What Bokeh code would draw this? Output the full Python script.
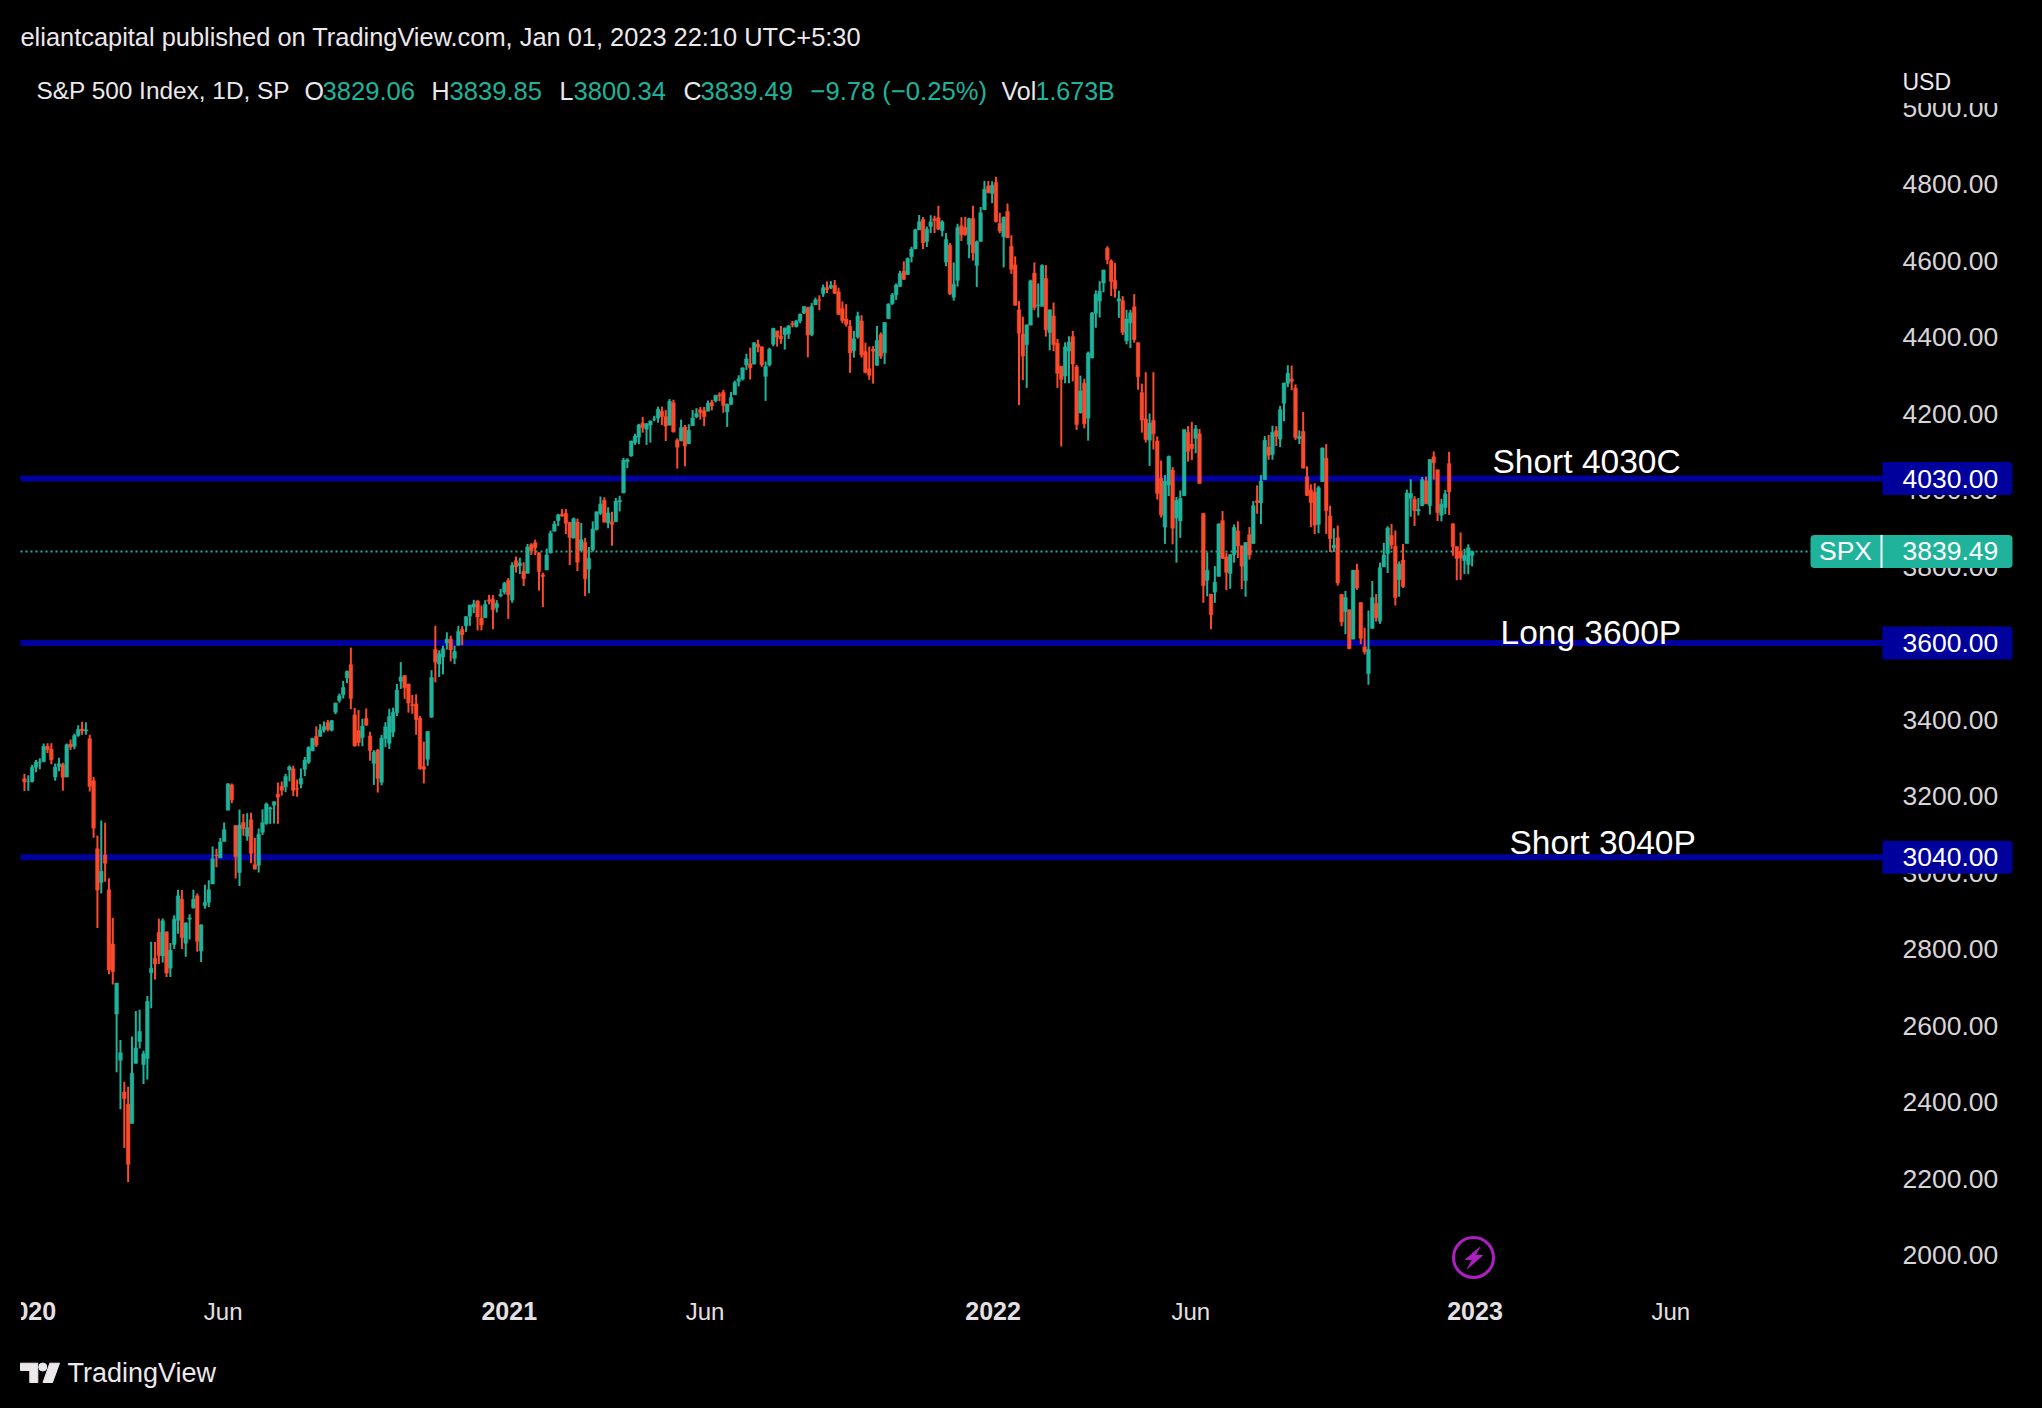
# S&P 500 daily chart, two sessions per bar
from bokeh.core.properties import value
from bokeh.embed import file_html
from bokeh.models import ColumnDataSource, FixedTicker, GlobalInlineStyleSheet, LinearAxis, NumeralTickFormatter, Range1d
from bokeh.plotting import figure
from bokeh.resources import INLINE

opens = [
    3245,3237,3238,3275,3288,3290,3330,3322,3250,3277,
    3282,3250,3335,3330,3358,3375,3370,3350,3240,3062,
    2974,3046,2955,2813,2630,2509,2426,2394,2344,2501,
    2558,2498,2514,2738,2776,2843,2782,2845,2750,2812,
    2875,2930,2815,2878,2908,2939,2795,2914,2922,2970,
    3046,3038,3081,3163,3229,3123,3000,3131,3095,3138,
    3020,3019,3105,3128,3166,3176,3205,3225,3224,3268,
    3271,3219,3231,3270,3288,3318,3356,3356,3372,3392,
    3372,3419,3450,3465,3509,3543,3412,3371,3353,3403,3357,
    3285,3320,3236,3350,3338,3367,3418,3500,3515,3493,
    3439,3441,3403,3277,3296,3406,3583,3545,3563,3600,
    3610,3560,3594,3635,3645,3670,3694,3710,3665,3666,
    3713,3714,3693,3723,3733,3764,3712,3815,3802,3788,
    3782,3857,3862,3836,3778,3791,3836,3892,3920,3937,
    3939,3915,3874,3916,3842,3863,3793,3844,3897,3939,
    3973,3914,3917,3917,3969,3992,4074,4089,4124,4138,
    4175,4159,4170,4185,4188,4206,4192,4170,4228,4130,
    4129,4165,4121,4168,4191,4210,4207,4206,4229,4233,
    4249,4255,4204,4224,4249,4284,4290,4327,4330,4329,
    4381,4374,4297,4327,4381,4416,4403,4406,4408,4435,
    4427,4442,4463,4477,4406,4484,4497,4513,4529,4529,
    4535,4518,4474,4447,4428,4364,4400,4442,4362,4317,
    4368,4326,4406,4359,4448,4487,4510,4532,4572,4563,4610,
    4630,4680,4707,4650,4689,4709,4712,4678,4596,4640,
    4504,4548,4691,4687,4642,4710,4587,4650,4733,4795,
    4775,4804,4697,4662,4728,4637,4588,4471,4408,4380,
    4431,4567,4482,4480,4553,4412,4455,4384,4324,4298,
    4363,4401,4322,4202,4279,4188,4345,4462,4494,4541,
    4632,4599,4548,4494,4495,4390,4437,4479,4385,
    4255,4186,4130,4182,4128,4031,3903,4013,4052,3927,
    3919,3985,4151,4120,4135,4147,3939,3764,3728,3733,
    3774,3920,3825,3782,3831,3893,3854,3763,3883,3860,
    3972,3966,4027,4112,4093,4155,4133,4227,4279,4290,
    4266,4134,4153,4035,4000,3994,3910,4022,4083,3932,
    3849,3875,3727,3682,3687,3610,3791,3706,3590,3520,
    3638,3703,3657,3799,3834,3881,3853,3766,3817,3860,
    3978,3976,3945,3959,4024,3959,4087,4053,3934,3954,
    4069,3912,3852,3840,3815,3805,3829.06,
]
highs = [
    3258,3254,3282,3294,3299,3337,3338,3338,3285,3300,
    3287,3337,3348,3363,3385,3394,3393,3360,3250,3097,
    3136,3130,2985,2882,2711,2562,2453,2440,2571,2638,
    2641,2534,2677,2819,2818,2879,2880,2845,2816,2888,
    2955,2954,2870,2891,2955,2945,2865,2968,2980,3068,
    3062,3090,3131,3233,3233,3123,3165,3153,3155,3156,
    3090,3115,3165,3183,3172,3186,3235,3238,3258,3280,
    3279,3243,3272,3302,3330,3352,3382,3388,3395,3399,
    3399,3444,3468,3501,3528,3588,3430,3425,3402,3429,3368,
    3320,3323,3360,3393,3428,3431,3493,3550,3515,3493,
    3464,3466,3409,3342,3369,3529,3645,3581,3593,3628,
    3619,3593,3645,3644,3670,3700,3713,3712,3698,3712,
    3726,3725,3712,3741,3760,3770,3811,3826,3823,3811,
    3859,3861,3870,3837,3784,3847,3894,3919,3938,3950,
    3950,3917,3928,3925,3914,3875,3851,3918,3944,3983,
    3981,3955,3943,3979,3985,4084,4083,4129,4147,4173,
    4191,4175,4182,4194,4218,4218,4209,4238,4236,4135,
    4184,4170,4172,4209,4214,4217,4217,4234,4236,4249,
    4255,4262,4226,4256,4286,4300,4321,4356,4372,4386,
    4393,4376,4336,4372,4423,4416,4429,4425,4431,4442,
    4445,4461,4480,4479,4489,4503,4509,4537,4545,4546,
    4549,4529,4493,4486,4444,4416,4466,4457,4385,4375,
    4376,4429,4412,4439,4488,4515,4540,4573,4598,4608,4636,
    4683,4719,4714,4689,4718,4717,4743,4705,4672,4646,
    4595,4696,4713,4714,4712,4743,4652,4740,4808,4808,
    4807,4819,4725,4715,4749,4666,4611,4494,4453,4432,
    4550,4595,4540,4590,4588,4472,4490,4395,4324,4386,
    4402,4416,4327,4299,4291,4362,4465,4522,4546,4576,
    4637,4603,4594,4521,4507,4471,4471,4512,4386,
    4278,4308,4200,4308,4140,4077,4039,4090,4060,3982,
    3999,4158,4167,4178,4170,4160,3939,3837,3728,3801,
    3913,3945,3836,3832,3910,3918,3855,3863,3903,3971,
    4012,4039,4141,4144,4168,4167,4220,4280,4326,4325,
    4276,4156,4204,4062,4015,4018,4011,4111,4120,3959,
    3900,3907,3728,3736,3687,3791,3807,3706,3640,3685,
    3762,3728,3810,3862,3905,3911,3894,3813,3859,4001,
    4028,3984,3979,4034,4035,4080,4101,4053,3977,4000,
    4100,3912,3852,3889,3846,3858,3839.85,
]
lows = [
    3213,3214,3235,3262,3270,3288,3312,3283,3240,3265,
    3214,3249,3320,3322,3355,3360,3360,3212,3091,2855,
    2945,2976,2734,2707,2478,2381,2280,2191,2344,2500,
    2540,2447,2459,2645,2720,2761,2765,2727,2727,2800,
    2840,2800,2780,2825,2905,2793,2766,2905,2910,2970,
    3014,3037,3082,3163,3181,2984,2965,3096,3083,3024,
    3008,3000,3098,3125,3127,3128,3127,3201,3210,3238,
    3200,3198,3220,3252,3284,3317,3328,3355,3366,3369,
    3369,3414,3444,3455,3495,3427,3329,3330,3330,3384,3292,
    3229,3209,3228,3328,3323,3354,3409,3480,3454,3418,
    3415,3360,3269,3233,3279,3405,3497,3511,3518,3583,
    3552,3545,3594,3594,3629,3645,3678,3633,3633,3666,
    3701,3636,3680,3720,3727,3663,3705,3784,3780,3749,
    3782,3830,3830,3737,3694,3791,3834,3892,3906,3930,
    3885,3804,3874,3788,3842,3723,3730,3839,3894,3935,
    3915,3900,3854,3917,3944,3992,4057,4087,4118,4120,
    4150,4118,4124,4180,4176,4170,4128,4168,4150,4056,
    4127,4062,4120,4168,4188,4184,4167,4206,4208,4229,
    4232,4202,4165,4222,4249,4271,4286,4314,4289,4329,
    4360,4322,4233,4323,4376,4375,4382,4367,4395,4425,
    4425,4436,4460,4347,4402,4484,4470,4505,4515,4525,
    4513,4458,4436,4427,4306,4346,4396,4346,4305,4288,
    4278,4325,4343,4329,4447,4484,4497,4532,4549,4563,4595,
    4630,4680,4630,4635,4672,4672,4680,4663,4585,4510,
    4495,4532,4651,4665,4606,4600,4531,4650,4733,4775,
    4750,4700,4671,4582,4659,4565,4482,4222,4287,4267,
    4431,4470,4451,4480,4401,4365,4363,4267,4114,4279,
    4279,4284,4157,4200,4161,4129,4345,4424,4451,4517,
    4590,4507,4503,4450,4405,4381,4371,4385,4262,
    4150,4124,4063,4106,3975,3928,3859,3984,3858,3810,
    3875,3985,4074,4078,4096,4017,3705,3722,3636,3705,
    3774,3820,3738,3742,3810,3822,3741,3721,3818,3860,
    3938,3911,4027,4079,4079,4115,4112,4180,4269,4261,
    4131,4120,4057,3984,3903,3885,3887,4022,3885,3838,
    3838,3750,3644,3623,3584,3610,3739,3597,3570,3491,
    3638,3656,3650,3799,3783,3845,3698,3721,3744,3860,
    3930,3906,3933,3958,3963,3936,4027,3919,3918,3937,
    3935,3828,3764,3765,3780,3780,3800.34,
]
closes = [
    3237,3237,3275,3289,3289,3330,3321,3295,3276,3284,
    3249,3334,3328,3358,3374,3370,3373,3225,3116,2954,
    3003,3024,2746,2741,2711,2529,2409,2237,2475,2541,
    2584,2526,2663,2750,2761,2783,2874,2737,2797,2878,
    2939,2830,2868,2881,2930,2820,2863,2922,2955,3036,
    3044,3080,3112,3232,3190,3041,3124,3115,3117,3050,
    3009,3100,3130,3179,3169,3185,3197,3215,3251,3276,
    3215,3218,3246,3294,3327,3351,3333,3373,3382,3374,
    3397,3443,3462,3484,3526,3455,3331,3340,3383,3385,3319,
    3315,3246,3351,3381,3408,3419,3477,3511,3483,3443,
    3436,3400,3271,3270,3369,3510,3550,3572,3585,3610,
    3582,3578,3630,3622,3669,3699,3702,3668,3647,3701,
    3709,3687,3703,3727,3756,3726,3803,3799,3809,3768,
    3851,3841,3849,3787,3774,3830,3887,3911,3935,3932,
    3913,3876,3925,3811,3870,3768,3821,3898,3943,3963,
    3916,3940,3910,3971,3973,4078,4079,4128,4141,4170,
    4163,4173,4180,4186,4211,4192,4167,4232,4152,4112,
    4163,4115,4156,4188,4200,4202,4192,4227,4220,4247,
    4246,4221,4224,4242,4281,4291,4319,4343,4320,4385,
    4374,4327,4323,4368,4423,4400,4395,4423,4429,4432,
    4442,4460,4480,4405,4480,4497,4496,4529,4524,4535,
    4514,4459,4443,4433,4358,4395,4455,4353,4307,4300,
    4363,4391,4350,4438,4486,4510,4536,4566,4551,4605,4630,
    4680,4701,4646,4682,4701,4704,4682,4701,4655,4513,
    4538,4686,4667,4668,4709,4620,4649,4725,4786,4778,
    4797,4701,4677,4713,4659,4577,4483,4410,4350,4432,
    4547,4477,4484,4587,4419,4471,4380,4305,4289,4374,
    4387,4329,4171,4259,4173,4358,4463,4512,4520,4575,
    4602,4545,4526,4500,4412,4447,4463,4393,4296,
    4183,4132,4175,4147,3991,3935,4023,4088,3900,3973,
    3978,4158,4101,4108,4160,4017,3750,3790,3674,3759,
    3911,3821,3785,3831,3902,3854,3801,3863,3830,3959,
    3967,4023,4130,4091,4151,4140,4210,4280,4305,4284,
    4137,4140,4057,3986,3967,3908,4006,4110,3946,3873,
    3856,3757,3655,3719,3585,3790,3744,3612,3577,3583,
    3719,3666,3797,3830,3901,3856,3719,3806,3748,3992,
    3991,3946,3949,4027,3964,4080,4071,3941,3963,3990,
    3995,3852,3821,3822,3829,3849,3839.49,
]

# sessions since the first bar of 2020
year_ticks = [2, 253, 505, 756]
year_labels = ["2020", "2021", "2022", "2023"]
month_ticks = [104, 355, 608, 858]
month_labels = ["Jun", "Jun", "Jun", "Jun"]
price_ticks = [2000, 2200, 2400, 2600, 2800, 3000, 3200, 3400, 3600, 3800, 4000, 4200, 4400, 4600, 4800, 5000]
levels = [4030, 3600, 3040]
level_notes = ["Short 4030C", "Long 3600P", "Short 3040P"]
last_price = 3839.49

UP = "#1fb39b"
DOWN = "#fb4a2c"
BLUE = "#00009c"
FONT = "Liberation Sans"


def px_x(x):
    return (x - 23) / 1.92


def px_y(y):
    return 4800 - (y - 183.5) / 0.3825


def price_px(v):
    return 183.5 + (4800 - v) * 0.3825


W, H = 2042, 1408
p = figure(width=W, height=H, output_backend="svg", toolbar_location=None,
           x_axis_location=None, y_axis_location=None, min_border=0,
           x_range=Range1d(px_x(0), px_x(W)), y_range=Range1d(px_y(H), px_y(0)),
           background_fill_color="black", border_fill_color="black")
p.outline_line_color = None
p.grid.visible = False
p.stylesheets = [GlobalInlineStyleSheet(css="html, body { background: #000; }")]

# price scale and time scale sit inside the frame
yaxis = LinearAxis(fixed_location=px_x(1902), ticker=FixedTicker(ticks=price_ticks),
                   formatter=NumeralTickFormatter(format="0.00"))
yaxis.major_label_standoff = 0
yaxis.major_label_text_font = FONT
yaxis.major_label_text_font_size = "26.5px"
yaxis.major_label_text_color = "#d8d4d8"
p.add_layout(yaxis, "right")

for ticks, names, style, size, loc in [(year_ticks, year_labels, "bold", "25px", 1301.5),
                                       (month_ticks, month_labels, "normal", "24px", 1297.5)]:
    xaxis = LinearAxis(fixed_location=px_y(loc), ticker=FixedTicker(ticks=ticks),
                       major_label_overrides=dict(zip(ticks, names)))
    xaxis.major_label_standoff = 0
    xaxis.major_label_text_font = FONT
    xaxis.major_label_text_font_size = size
    xaxis.major_label_text_font_style = style
    xaxis.major_label_text_color = "#e4e0e4"
    p.add_layout(xaxis, "below")

for ax in [yaxis] + p.below:
    ax.axis_line_color = None
    ax.major_tick_line_color = None
    ax.minor_tick_line_color = None
    ax.major_tick_out = 0
    ax.minor_tick_out = 0

# horizontal levels and last price
p.segment(x0=[px_x(20)] * 3, x1=[px_x(1883)] * 3, y0=levels, y1=levels, line_color=BLUE, line_width=6)
p.segment(x0=[px_x(20)], x1=[px_x(1811)], y0=[last_price], y1=[last_price], line_color=UP,
          line_width=2, line_dash="2 3")

# candles
xs = [2 * i + 0.5 for i in range(len(closes))]
colors = [UP if c >= o else DOWN for o, c in zip(opens, closes)]
src = ColumnDataSource(dict(x=xs, open=opens, high=highs, low=lows, close=closes, color=colors))
p.segment("x", "low", "x", "high", color="color", line_width=2, source=src)
p.vbar("x", 1.9, "open", "close", fill_color="color", line_color="color", line_width=0.5, source=src)

# masks: the price scale is cut under the header, the time scale at the left edge
p.quad(left=px_x(0), right=px_x(W), top=px_y(0), bottom=px_y(102), color="black", level="overlay")
p.quad(left=px_x(0), right=px_x(20), top=px_y(1280), bottom=px_y(1340), color="black", level="overlay")


def put(x, y, txt, color="#ece8ec", size=24, align="left", style="normal"):
    p.text(x=[px_x(x)], y=[px_y(y)], text=[txt], text_color=color, text_font=value(FONT), text_font_size=f"{size}px",
           text_font_style=style, text_align=align, text_baseline="middle", level="overlay")


# header
put(20, 36, "eliantcapital published on TradingView.com, Jan 01, 2023 22:10 UTC+5:30", size=25.4)
put(36, 90, "S&P 500 Index, 1D, SP", size=24.4)
put(304, 90, "O", size=25)
put(322, 90, "3829.06", UP, 25.6)
put(431, 90, "H", size=25)
put(449, 90, "3839.85", UP, 25.6)
put(559, 90, "L", size=25)
put(573, 90, "3800.34", UP, 25.6)
put(683, 90, "C", size=25)
put(700, 90, "3839.49", UP, 25.6)
put(810, 90, "\u22129.78 (\u22120.25%)", UP, 25.6)
put(1001, 90, "Vol", size=25)
put(1035, 90, "1.673B", UP, 25)
put(1902, 81, "USD", size=23)

# level notes
put(1492, 461, level_notes[0], "white", 33.5)
put(1500, 632, level_notes[1], "white", 33.5)
put(1509, 842, level_notes[2], "white", 33.5)

# price tags
for lv in levels:
    p.quad(left=px_x(1882), right=px_x(2012), top=lv + 16.5 / 0.3825, bottom=lv - 16.5 / 0.3825,
           fill_color=BLUE, line_color=None, border_radius=(0, 4, 4, 0), level="overlay")
    put(1902, price_px(lv), f"{lv:.2f}", "white", 26.5)
p.quad(left=px_x(1810), right=px_x(2012), top=last_price + 16.5 / 0.3825, bottom=last_price - 16.5 / 0.3825,
       fill_color=UP, line_color=None, border_radius=4, level="overlay")
p.segment(x0=[px_x(1881)], x1=[px_x(1881)], y0=[last_price - 16.5 / 0.3825], y1=[last_price + 16.5 / 0.3825],
          line_color="white", line_width=2, level="overlay")
tag_y = price_px(last_price)
put(1845, tag_y, "SPX", "white", 26.5, "center")
put(1902, tag_y, f"{last_price:.2f}", "white", 26.5)

# bolt marker
p.scatter(x=[px_x(1473)], y=[px_y(1257)], marker="circle", size=40, fill_alpha=0, line_color="#ad1fc0", line_width=3,
          level="overlay")
p.patch(x=[px_x(a) for a in (1479, 1465, 1472, 1467, 1482, 1474.5)],
        y=[px_y(b) for b in (1247, 1259, 1259, 1268, 1255, 1255)], color="#ad1fc0", level="overlay")

# logo
p.patch(x=[px_x(a) for a in (20, 37.3, 37.3, 29.3, 29.3, 20)],
        y=[px_y(b) for b in (1362.7, 1362.7, 1382, 1382, 1370, 1370)], color="#ece8ec", level="overlay")
p.scatter(x=[px_x(42.3)], y=[px_y(1366.5)], marker="circle", size=8, color="#ece8ec", level="overlay")
p.patch(x=[px_x(a) for a in (49.3, 59, 52, 42.5)],
        y=[px_y(b) for b in (1362.7, 1362.7, 1382, 1382)], color="#ece8ec", level="overlay")
put(67, 1372, "TradingView", "#ece8ec", 27)

open("out.html", "w").write(file_html(p, INLINE))
